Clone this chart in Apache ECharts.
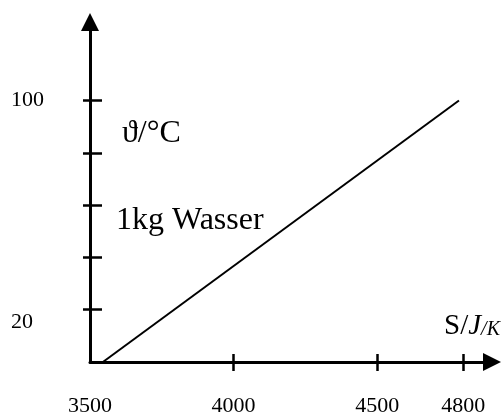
<!DOCTYPE html>
<html>
<head>
<meta charset="utf-8">
<script src="https://cdn.jsdelivr.net/npm/echarts@6/dist/echarts.min.js"></script>
<style>
  html, body { margin: 0; padding: 0; background: #fff; }
  #chart { width: 501px; height: 417px; }
</style>
</head>
<body>
<div id="chart"></div>
<script>
// values
const xTicks = [4000, 4500, 4800];
const xLabels = [3500, 4000, 4500, 4800];
const yTicks = [20, 40, 60, 80, 100];
const yLabels = [20, 100];
const entropy = [3545, 4785];
const temperature = [0, 100];

const font = 'Liberation Serif, Times New Roman, serif';

let chart = echarts.init(document.getElementById('chart'));
chart.setOption({
  animation: false,
  grid: { left: 90, right: 9, top: 22, bottom: 54 },
  xAxis: [{
    type: 'value',
    min: 3500,
    max: 4900,
    splitLine: { show: false },
    axisLine: {
      onZero: false,
      symbol: ['none', 'triangle'],
      symbolSize: [18, 18],
      lineStyle: { color: '#000', width: 3 }
    },
    axisTick: { customValues: xTicks, length: 9, lineStyle: { color: '#000', width: 2.5 } },
    axisLabel: {
      customValues: xLabels,
      margin: 33,
      color: '#000',
      fontFamily: font,
      fontSize: 22,
      formatter: function (v) { return String(v); }
    }
  }, {
    type: 'value',
    min: 3500,
    max: 4900,
    position: 'bottom',
    splitLine: { show: false },
    axisLine: { show: false },
    axisLabel: { show: false },
    axisTick: { customValues: xTicks, inside: true, length: 8, lineStyle: { color: '#000', width: 2.5 } }
  }],
  yAxis: [{
    type: 'value',
    min: 0,
    max: 130,
    splitLine: { show: false },
    axisLine: {
      show: true,
      onZero: false,
      symbol: ['none', 'triangle'],
      symbolSize: [18, 18],
      lineStyle: { color: '#000', width: 3 }
    },
    axisTick: { show: true, customValues: yTicks, length: 7, lineStyle: { color: '#000', width: 2.5 } },
    axisLabel: {
      customValues: yLabels,
      align: 'left',
      margin: 79,
      color: '#000',
      fontFamily: font,
      fontSize: 22,
      formatter: function (v) {
        return v === 20 ? '{low|' + v + '}' : '{n|' + v + '}';
      },
      rich: {
        n: { fontFamily: font, fontSize: 22, color: '#000' },
        low: { fontFamily: font, fontSize: 22, color: '#000', padding: [26, 0, 0, 0] }
      }
    }
  }, {
    type: 'value',
    min: 0,
    max: 130,
    position: 'left',
    splitLine: { show: false },
    axisLine: { show: false },
    axisLabel: { show: false },
    axisTick: { show: true, customValues: yTicks, inside: true, length: 12, lineStyle: { color: '#000', width: 2.5 } }
  }],
  series: [{
    type: 'line',
    symbol: 'none',
    silent: true,
    lineStyle: { color: '#000', width: 2 },
    data: entropy.map(function (s, i) { return [s, temperature[i]]; })
  }],
  graphic: [{
    type: 'text',
    left: 122,
    top: 118,
    style: { text: 'ϑ/°C', font: '32px ' + font, fill: '#000' }
  }, {
    type: 'text',
    left: 116,
    top: 205,
    style: { text: '1kg Wasser', font: '32px ' + font, fill: '#000' }
  }, {
    type: 'text',
    right: 1,
    top: 312,
    style: {
      text: '{u|S/}{i|J}{s|/K}',
      rich: {
        u: { fontFamily: font, fontSize: 29, fill: '#000' },
        i: { fontFamily: font, fontSize: 29, fontStyle: 'italic', fill: '#000' },
        s: { fontFamily: font, fontSize: 20, fontStyle: 'italic', fill: '#000', padding: [6, 0, 0, 0] }
      }
    }
  }]
});
</script>
</body>
</html>
